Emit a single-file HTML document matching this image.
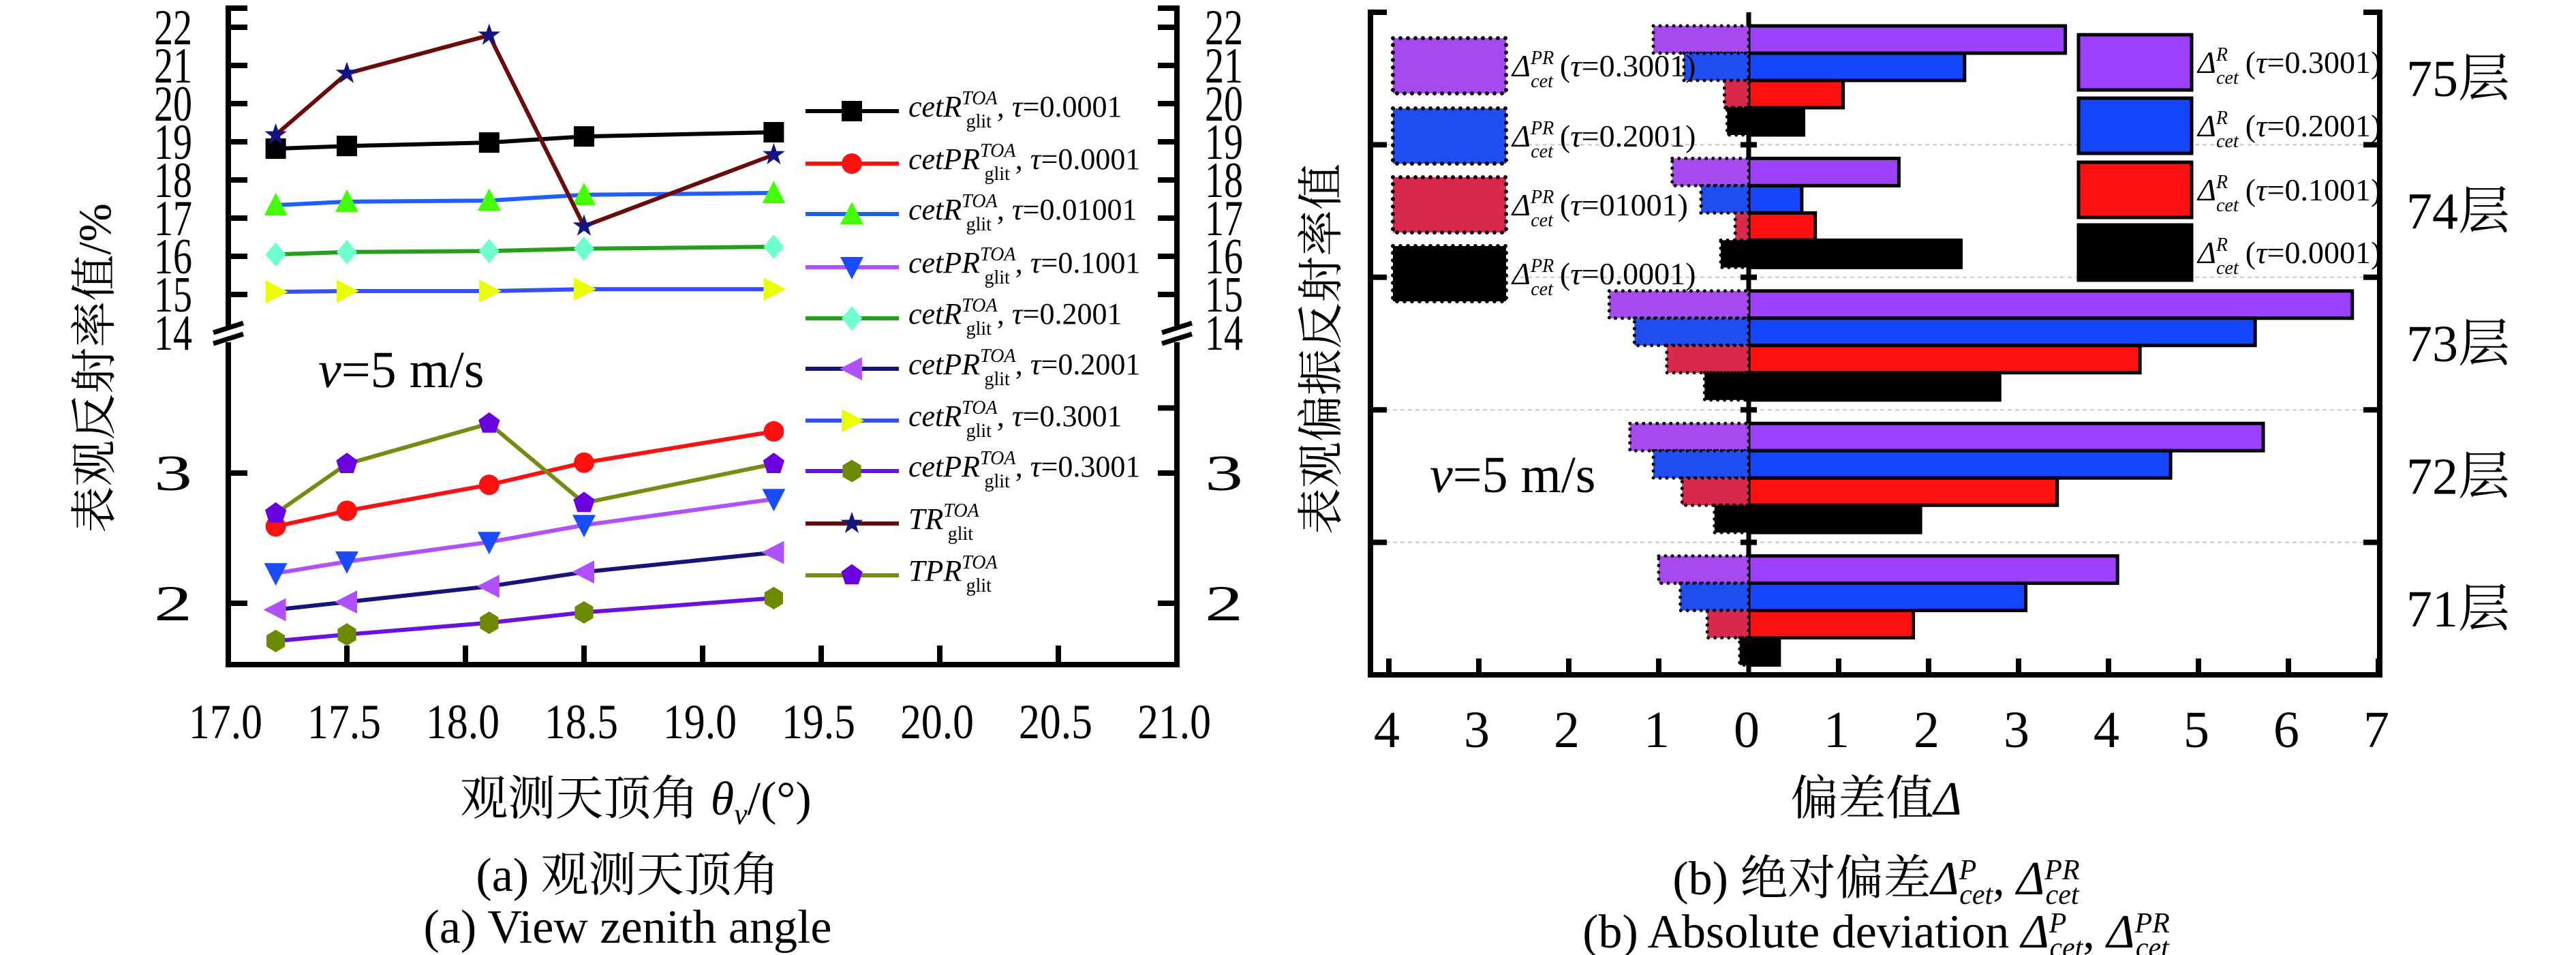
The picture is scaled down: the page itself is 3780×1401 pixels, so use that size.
<!DOCTYPE html>
<html><head><meta charset="utf-8">
<style>
html,body{margin:0;padding:0;background:#fff;}
svg{display:block;font-family:"Liberation Serif","Noto Serif CJK SC",serif;}
</style></head>
<body>
<svg id="root" width="3780" height="1401" viewBox="0 0 3780 1401" xmlns="http://www.w3.org/2000/svg" font-family="Liberation Serif, Noto Serif CJK SC, serif">
<g id="left"></g>
<g id="right"></g>
</svg>
<script>
// ---------- Left chart data ----------
const xAngles = [17.2, 17.5, 18.1, 18.5, 19.3];
const xTicks = [17.0,17.5,18.0,18.5,19.0,19.5,20.0,20.5,21.0];
const xTickLabels = ["17.0","17.5","18.0","18.5","19.0","19.5","20.0","20.5","21.0"];
const yTicksUpper = [14,15,16,17,18,19,20,21,22];
const yTicksLower = [2,3];
const cetR_0001 = [18.82, 18.89, 18.98, 19.14, 19.25];
const cetPR_0001 = [2.59, 2.71, 2.91, 3.08, 3.32];
const cetR_01001 = [17.34, 17.43, 17.46, 17.61, 17.66];
const cetPR_1001 = [2.23, 2.32, 2.47, 2.60, 2.80];
const cetR_2001 = [16.05, 16.11, 16.14, 16.20, 16.25];
const cetPR_2001 = [1.95, 2.01, 2.13, 2.24, 2.39];
const cetR_3001 = [15.07, 15.09, 15.09, 15.14, 15.14];
const cetPR_3001 = [1.71, 1.76, 1.85, 1.93, 2.04];
const TR = [19.18, 20.79, 21.79, 16.79, 18.66];
const TPR = [2.69, 3.07, 3.38, 2.77, 3.07];

// ---------- Right chart data ----------
const layers = ["75层","74层","73层","72层","71层"];
const tauLabels = ["0.3001","0.2001","0.1001","0.0001"];
const devR = [
  [3.52, 2.40, 1.05, 0.61],
  [1.67, 0.59, 0.74, 2.36],
  [6.71, 5.63, 4.35, 2.79],
  [5.72, 4.69, 3.43, 1.91],
  [4.10, 3.08, 1.83, 0.34]
];
const devPR = [
  [1.06, 0.72, 0.27, 0.24],
  [0.85, 0.53, 0.15, 0.31],
  [1.55, 1.27, 0.91, 0.49],
  [1.32, 1.06, 0.74, 0.38],
  [1.00, 0.76, 0.46, 0.10]
];
const devTicks = [-4,-3,-2,-1,0,1,2,3,4,5,6,7];
const devTickLabels = ["4","3","2","1","0","1","2","3","4","5","6","7"];

const NS = "http://www.w3.org/2000/svg";
const FONT = '"Liberation Serif", "Noto Serif CJK SC", "Noto Sans CJK SC", serif';
function mk(parent, tag, attrs, txt){
  const e = document.createElementNS(NS, tag);
  for (const k in attrs) e.setAttribute(k, attrs[k]);
  if (tag === 'text') { e.style.fontFamily = FONT; e.setAttribute('fill','#000'); }
  if (txt !== undefined) e.textContent = txt;
  parent.appendChild(e);
  return e;
}

// ================= LEFT =================
const L = document.getElementById('left');
const xL = v => 335 + (v - 17.0) * 348;
function yL(v){ return v >= 10 ? 208 - (v - 19) * 56 : 694 - (v - 3) * 191; }
const LX0 = 335, LX1 = 1727, LTOP = 12, LBOT = 975, BRK = 490;

let ax = mk(L,'g',{});


mk(ax,'line',{x1:LX0,y1:LTOP,x2:LX0,y2:BRK-12,stroke:'#000','stroke-width':8});
mk(ax,'line',{x1:LX0,y1:BRK+12,x2:LX0,y2:LBOT+4,stroke:'#000','stroke-width':8});
mk(ax,'line',{x1:LX1,y1:LTOP,x2:LX1,y2:BRK-12,stroke:'#000','stroke-width':8});
mk(ax,'line',{x1:LX1,y1:BRK+12,x2:LX1,y2:LBOT+4,stroke:'#000','stroke-width':8});
mk(ax,'line',{x1:LX0-4,y1:LBOT,x2:LX1+4,y2:LBOT,stroke:'#000','stroke-width':8});
mk(ax,'line',{x1:LX0-4,y1:LTOP,x2:LX0+28,y2:LTOP,stroke:'#000','stroke-width':8});
mk(ax,'line',{x1:LX1+4,y1:LTOP,x2:LX1-28,y2:LTOP,stroke:'#000','stroke-width':8});
[LX0, LX1].forEach(x=>{
  mk(ax,'line',{x1:x-22,y1:BRK-2,x2:x+22,y2:BRK-16,stroke:'#000','stroke-width':7});
  mk(ax,'line',{x1:x-22,y1:BRK+14,x2:x+22,y2:BRK,stroke:'#000','stroke-width':7});
});
yTicksUpper.concat(yTicksLower).forEach(v=>{
  const y = yL(v);
  if (v !== 14){
    mk(ax,'line',{x1:LX0,y1:y,x2:LX0+28,y2:y,stroke:'#000','stroke-width':8});
    mk(ax,'line',{x1:LX1,y1:y,x2:LX1-28,y2:y,stroke:'#000','stroke-width':8});
  }
  const t1 = mk(ax,'text',{x:282,y:y+25,'font-size':74,'text-anchor':'end',textLength:56,lengthAdjust:'spacingAndGlyphs'}, String(v));
  
  
  const t2 = mk(ax,'text',{x:1768,y:y+25,'font-size':74,'text-anchor':'start',textLength:56,lengthAdjust:'spacingAndGlyphs'}, String(v));
  
  
});
mk(ax,'line',{x1:LX1,y1:yL(3.5),x2:LX1-28,y2:yL(3.5),stroke:'#000','stroke-width':8});
xTicks.forEach((v,i)=>{
  const x = xL(v);
  if (i>0 && i<xTicks.length-1) mk(ax,'line',{x1:x,y1:LBOT,x2:x,y2:LBOT-28,stroke:'#000','stroke-width':8});
  const t = mk(ax,'text',{x:x-4,y:1083,'font-size':72,'text-anchor':'middle',textLength:108,lengthAdjust:'spacingAndGlyphs'}, xTickLabels[i]);
  
  
});

function marker(g, type, x, y, fill){
  const s = 15;
  let e;
  switch(type){
    case 'square': e = mk(g,'rect',{x:x-s,y:y-s,width:2*s,height:2*s,fill}); break;
    case 'circle': e = mk(g,'circle',{cx:x,cy:y,r:s,fill}); break;
    case 'up': e = mk(g,'polygon',{points:`${x},${y-s-3} ${x+s+2},${y+s} ${x-s-2},${y+s}`,fill}); break;
    case 'down': e = mk(g,'polygon',{points:`${x},${y+s+3} ${x+s+2},${y-s} ${x-s-2},${y-s}`,fill}); break;
    case 'left': e = mk(g,'polygon',{points:`${x-s-3},${y} ${x+s},${y-s-2} ${x+s},${y+s+2}`,fill}); break;
    case 'right': e = mk(g,'polygon',{points:`${x+s+3},${y} ${x-s},${y-s-2} ${x-s},${y+s+2}`,fill}); break;
    case 'diamond': e = mk(g,'polygon',{points:`${x},${y-s-3} ${x+s},${y} ${x},${y+s+3} ${x-s},${y}`,fill}); break;
    case 'hex': { let p=[]; for(let k=0;k<6;k++){const a=Math.PI/2+k*Math.PI/3;p.push((x+s*1.05*Math.cos(a)).toFixed(1)+','+(y+s*1.1*Math.sin(a)).toFixed(1));} e = mk(g,'polygon',{points:p.join(' '),fill}); break; }
    case 'pent': { let p=[]; for(let k=0;k<5;k++){const a=-Math.PI/2+k*2*Math.PI/5;p.push((x+s*1.1*Math.cos(a)).toFixed(1)+','+(y+s*1.1*Math.sin(a)).toFixed(1));} e = mk(g,'polygon',{points:p.join(' '),fill}); break; }
    case 'star': { let p=[]; for(let k=0;k<10;k++){const a=-Math.PI/2+k*Math.PI/5;const r=k%2?s*0.45:s*1.15;p.push((x+r*Math.cos(a)).toFixed(1)+','+(y+r*Math.sin(a)).toFixed(1));} e = mk(g,'polygon',{points:p.join(' '),fill}); break; }
  }
  return e;
}

const seriesL = [
  {d:cetR_0001, line:'#000000', m:'square', f:'#000000', name:'cetR', tau:'0.0001'},
  {d:cetPR_0001, line:'#ff1010', m:'circle', f:'#ff1010', name:'cetPR', tau:'0.0001'},
  {d:cetR_01001, line:'#1f5fff', m:'up', f:'#44ff00', name:'cetR', tau:'0.01001'},
  {d:cetPR_1001, line:'#b050ff', m:'down', f:'#1a4cff', name:'cetPR', tau:'0.1001'},
  {d:cetR_2001, line:'#22a018', m:'diamond', f:'#70ffd0', name:'cetR', tau:'0.2001'},
  {d:cetPR_2001, line:'#14147a', m:'left', f:'#b050ff', name:'cetPR', tau:'0.2001'},
  {d:cetR_3001, line:'#3350ff', m:'right', f:'#eaff00', name:'cetR', tau:'0.3001'},
  {d:cetPR_3001, line:'#6a10e0', m:'hex', f:'#6b8a00', name:'cetPR', tau:'0.3001'},
  {d:TR, line:'#6a0a0a', m:'star', f:'#141480', name:'TR', tau:null},
  {d:TPR, line:'#7a8a10', m:'pent', f:'#6a00e0', name:'TPR', tau:null}
];
const legendY = [163,240,314,392,467,541,617,691,768,844];
seriesL.forEach((s,i)=>{
  const g = mk(L,'g',{});
  
  
  const pts = s.d.map((v,j)=>xL(xAngles[j]).toFixed(1)+','+yL(v).toFixed(1)).join(' ');
  mk(g,'polyline',{points:pts,fill:'none',stroke:s.line,'stroke-width':6});
  s.d.forEach((v,j)=>{
    const m = marker(g, s.m, xL(xAngles[j]), yL(v), s.f);
    
    
  });
  const lg = mk(L,'g',{});
  
  
  const ly = legendY[i];
  mk(lg,'line',{x1:1182,y1:ly,x2:1319,y2:ly,stroke:s.line,'stroke-width':6});
  marker(lg, s.m, 1250, ly, s.f);
  const t = mk(lg,'text',{x:1333,y:ly+8,'font-size':44});
  mk(t,'tspan',{'font-style':'italic'}, s.name);
  mk(t,'tspan',{'font-size':28,'font-style':'italic',dy:-18}, 'TOA');
  mk(t,'tspan',{'font-size':28,dx:-46,dy:34}, 'glit');
  if (s.tau){
    mk(t,'tspan',{dy:-16,dx:8}, ', ');
    mk(t,'tspan',{'font-style':'italic'}, 'τ');
    mk(t,'tspan',{}, '='+s.tau);
  }
});

let tt;
tt = mk(L,'text',{x:467,y:568,'font-size':76});
mk(tt,'tspan',{'font-style':'italic'},'v');
mk(tt,'tspan',{},'=5 m/s');



tt = mk(L,'text',{x:933,y:1195,'font-size':70,'text-anchor':'middle'});
mk(tt,'tspan',{},'观测天顶角 ');
mk(tt,'tspan',{'font-style':'italic'},'θ');
mk(tt,'tspan',{'font-style':'italic','font-size':44,dy:14},'v');
mk(tt,'tspan',{dy:-14},'/(°)');



tt = mk(L,'text',{x:0,y:0,'font-size':68,'text-anchor':'middle',transform:'translate(162,540) rotate(-90)'},'表观反射率值/%');



tt = mk(L,'text',{x:921,y:1307,'font-size':70,'text-anchor':'middle'},'(a) 观测天顶角');


tt = mk(L,'text',{x:921,y:1383,'font-size':70,'text-anchor':'middle'},'(a) View zenith angle');



// ================= RIGHT =================
const R = document.getElementById('right');
const RX0 = 2011, RX1 = 3492, RTOP = 18, RBOT = 990, ZERO = 2566, UNIT = 132;
const xR = v => ZERO + v * UNIT;
const GROUP_H = (RBOT - RTOP) / layers.length;
const BAR_H = 40;
const colR = ['#9d40ff','#1446ff','#ff1010','#000000'];
const colPR = ['#a64af0','#1e4ef0','#d8284c','#000000'];

let rax = mk(R,'g',{});


for (let i=1;i<layers.length;i++){
  const y = RTOP + i*GROUP_H;
  mk(rax,'line',{x1:RX0,y1:y,x2:RX1,y2:y,stroke:'#c8c8c8','stroke-width':2,'stroke-dasharray':'6,5'});
}

layers.forEach((lay,gi)=>{
  const g = mk(R,'g',{});
  
  
  const gy = RTOP + gi*GROUP_H + 20;
  for (let k=0;k<4;k++){
    const y = gy + k*BAR_H;
    const vr = devR[gi][k];
    const b = mk(g,'rect',{x:ZERO,y:y,width:xR(vr)-ZERO,height:BAR_H,fill:colR[k],stroke:'#000','stroke-width':5});
    
    
    const vp = devPR[gi][k];
    const w = vp*UNIT;
    const p = mk(g,'rect',{x:ZERO-w,y:y,width:w,height:BAR_H,fill:colPR[k],stroke:'#000','stroke-width':5,'stroke-dasharray':'0,10','stroke-linecap':'round'});
    
    
  }
  const lt = mk(R,'text',{x:3607,y:gy+GROUP_H/2+6,'font-size':76,'text-anchor':'middle'},lay);
  
  
});

mk(rax,'line',{x1:RX0,y1:RTOP,x2:RX0,y2:RBOT+4,stroke:'#000','stroke-width':8});
mk(rax,'line',{x1:RX1,y1:RTOP,x2:RX1,y2:RBOT+4,stroke:'#000','stroke-width':8});
mk(rax,'line',{x1:RX0-4,y1:RBOT,x2:RX1+4,y2:RBOT,stroke:'#000','stroke-width':8});
mk(rax,'line',{x1:RX0-4,y1:RTOP,x2:RX0+24,y2:RTOP,stroke:'#000','stroke-width':8});
mk(rax,'line',{x1:RX1+4,y1:RTOP,x2:RX1-24,y2:RTOP,stroke:'#000','stroke-width':8});
mk(rax,'line',{x1:ZERO,y1:RTOP,x2:ZERO,y2:RBOT,stroke:'#000','stroke-width':7});
for (let i=1;i<layers.length;i++){
  const y = RTOP + i*GROUP_H;
  mk(rax,'line',{x1:RX0,y1:y,x2:RX0+24,y2:y,stroke:'#000','stroke-width':8});
  mk(rax,'line',{x1:RX1,y1:y,x2:RX1-24,y2:y,stroke:'#000','stroke-width':8});
  mk(rax,'line',{x1:ZERO-12,y1:y,x2:ZERO+12,y2:y,stroke:'#000','stroke-width':8});
}
devTicks.forEach((v,i)=>{
  const x = xR(v);
  if (v!==0) mk(rax,'line',{x1:x,y1:RBOT,x2:x,y2:RBOT-24,stroke:'#000','stroke-width':8});
  const t = mk(rax,'text',{x:x-3,y:1096,'font-size':76,'text-anchor':'middle'},devTickLabels[i]);
  
  
});

const lpY = [56,159,260,361];
const lrY = [51,144,238,330];
for (let k=0;k<4;k++){
  let g = mk(R,'g',{});
  
  
  mk(g,'rect',{x:2044,y:lpY[k],width:166,height:81,fill:colPR[k],stroke:'#000','stroke-width':6,'stroke-dasharray':'0,11','stroke-linecap':'round'});
  let t = mk(g,'text',{x:2219,y:lpY[k]+56,'font-size':46});
  mk(t,'tspan',{'font-style':'italic'},'Δ');
  mk(t,'tspan',{'font-style':'italic','font-size':28,dy:-18},'PR');
  mk(t,'tspan',{'font-style':'italic','font-size':28,dx:-34,dy:34},'cet');
  mk(t,'tspan',{dy:-16,dx:10},'(');
  mk(t,'tspan',{'font-style':'italic'},'τ');
  mk(t,'tspan',{},'='+(k===2?'01001':tauLabels[k])+')');

  g = mk(R,'g',{});
  
  
  mk(g,'rect',{x:3050,y:lrY[k],width:166,height:81,fill:colR[k],stroke:'#000','stroke-width':5});
  t = mk(g,'text',{x:3225,y:lrY[k]+56,'font-size':46});
  mk(t,'tspan',{'font-style':'italic'},'Δ');
  mk(t,'tspan',{'font-style':'italic','font-size':28,dy:-18},'R');
  mk(t,'tspan',{'font-style':'italic','font-size':28,dx:-17,dy:34},'cet');
  mk(t,'tspan',{dy:-16,dx:10},'(');
  mk(t,'tspan',{'font-style':'italic'},'τ');
  mk(t,'tspan',{},'='+tauLabels[k]+')');
}

tt = mk(R,'text',{x:2098,y:722,'font-size':76});
mk(tt,'tspan',{'font-style':'italic'},'v');
mk(tt,'tspan',{},'=5 m/s');



tt = mk(R,'text',{x:0,y:0,'font-size':68,'text-anchor':'middle',transform:'translate(1962,512) rotate(-90)'},'表观偏振反射率值');



tt = mk(R,'text',{x:2753,y:1195,'font-size':70,'text-anchor':'middle'});
mk(tt,'tspan',{},'偏差值');
mk(tt,'tspan',{'font-style':'italic'},'Δ');



function capDelta(t){
  mk(t,'tspan',{'font-style':'italic'},'Δ');
  mk(t,'tspan',{'font-style':'italic','font-size':42,dy:-22},'P');
  mk(t,'tspan',{'font-style':'italic','font-size':42,dx:-25,dy:36},'cet');
  mk(t,'tspan',{dy:-14},', ');
  mk(t,'tspan',{'font-style':'italic'},'Δ');
  mk(t,'tspan',{'font-style':'italic','font-size':42,dy:-22},'PR');
  mk(t,'tspan',{'font-style':'italic','font-size':42,dx:-50,dy:36},'cet');
}
tt = mk(R,'text',{x:2753,y:1312,'font-size':70,'text-anchor':'middle'});
mk(tt,'tspan',{},'(b) 绝对偏差');
capDelta(tt);


tt = mk(R,'text',{x:2753,y:1390,'font-size':70,'text-anchor':'middle'});
mk(tt,'tspan',{},'(b) Absolute deviation ');
capDelta(tt);


</script>
</body></html>
